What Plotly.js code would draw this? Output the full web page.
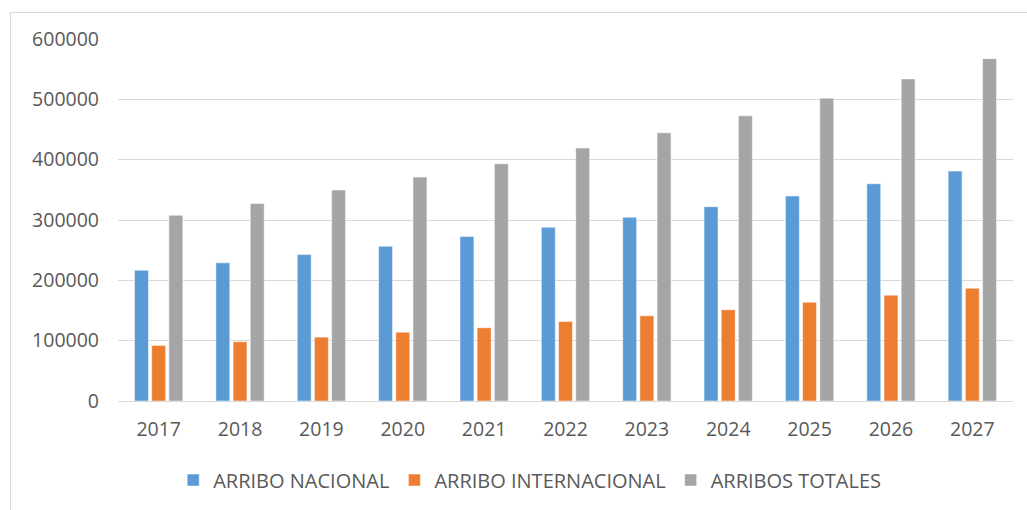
<!DOCTYPE html>
<html>
<head>
<meta charset="utf-8">
<script src="https://cdn.plot.ly/plotly-3.0.1.min.js"></script>
<style>
html,body{margin:0;padding:0;background:#fff;}
#frame{position:absolute;left:10px;top:12px;width:1030px;height:520px;border:1px solid #D9D9D9;box-sizing:border-box;pointer-events:none;z-index:5;}
#chart{position:absolute;left:0;top:0;width:1027px;height:510px;}
</style>
</head>
<body>
<div id="chart"></div>
<div id="frame"></div>
<script>
const years = ['2017','2018','2019','2020','2021','2022','2023','2024','2025','2026','2027'];
const arriboNacional = [216700, 229000, 242700, 256400, 272500, 287900, 304400, 322100, 339800, 360100, 381100];
const arriboInternacional = [92100, 98200, 105900, 114100, 121400, 131800, 141200, 151200, 163800, 175400, 186900];
const arribosTotales = [307700, 327500, 349700, 371200, 393200, 419200, 444500, 472600, 501900, 533800, 567400];
const seriesNames = ['ARRIBO NACIONAL', 'ARRIBO INTERNACIONAL', 'ARRIBOS TOTALES'];
const seriesColors = ['#5B9BD5', '#ED7D31', '#A5A5A5'];
const yTicks = [0, 100000, 200000, 300000, 400000, 500000, 600000];

const values = [arriboNacional, arriboInternacional, arribosTotales];
const traces = values.map((v, i) => ({
  type: 'bar',
  x: years,
  y: v,
  name: seriesNames[i],
  marker: {color: seriesColors[i], line: {color: '#ffffff', width: 0.5}},
  hoverinfo: 'x+y+name'
}));

const font = {family: '"Open Sans", "Liberation Sans", sans-serif', color: '#595959'};
const layout = {
  width: 1027,
  height: 510,
  margin: {l: 118, r: 14, t: 39, b: 108},
  paper_bgcolor: '#ffffff',
  plot_bgcolor: '#ffffff',
  barmode: 'group',
  bargap: 0.366,
  bargroupgap: 0.19,
  font: Object.assign({size: 18}, font),
  showlegend: true,
  legend: {
    orientation: 'h',
    x: 0.46, xanchor: 'center',
    y: -0.215, yanchor: 'middle',
    itemwidth: 30,
    font: Object.assign({size: 20}, font),
    traceorder: 'normal'
  },
  xaxis: {
    type: 'category',
    showgrid: false,
    showline: false,
    zeroline: false,
    ticks: '',
    ticklabelstandoff: 14,
    tickfont: Object.assign({size: 19.5}, font)
  },
  yaxis: {
    range: [0, 600000],
    tickvals: yTicks,
    ticktext: yTicks.map(String),
    showgrid: true,
    gridcolor: '#D9D9D9',
    gridwidth: 1,
    zeroline: true,
    zerolinecolor: '#D9D9D9',
    zerolinewidth: 1,
    showline: false,
    ticks: '',
    ticklabelstandoff: 18,
    tickfont: Object.assign({size: 19.5}, font)
  }
};

Plotly.newPlot('chart', traces, layout, {displayModeBar: false, staticPlot: true});
</script>
</body>
</html>
